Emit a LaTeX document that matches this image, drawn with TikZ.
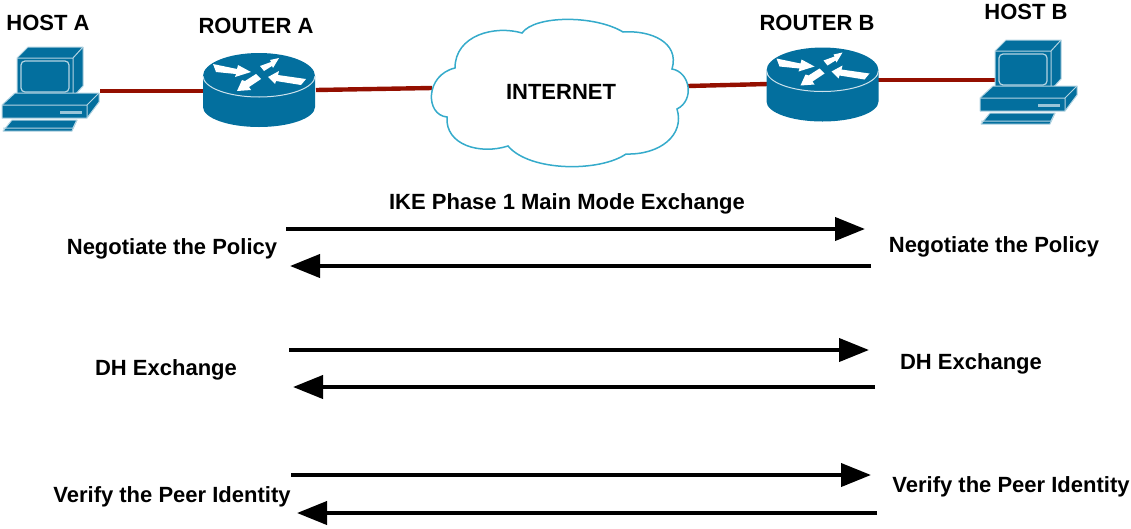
\documentclass[tikz,border=0pt]{standalone}
\usepackage{fontspec}
\setmainfont{Liberation Sans}
\usetikzlibrary{arrows.meta}
\definecolor{ciscoblue}{HTML}{036F9E}
\definecolor{cloudblue}{HTML}{35ABCB}
\definecolor{linkred}{HTML}{940F00}
\tikzset{
	textlabel/.style={font=\bfseries\fontsize{22}{26}\selectfont, inner sep=0pt},
	anchorbox/.style={inner sep=0pt, minimum size=1pt},
	link/.style={draw=linkred, line width=4.4pt},
	exchange/.style={line width=4pt, -{Triangle[length=30pt, width=23pt]}},
	icon/.style={fill=ciscoblue, draw=white!70!ciscoblue, line width=1pt, line join=round},
	host/.pic={
		% monitor
		\path[icon] (-33,-32) -- (-22,-43) -- (33,-43) -- (33,-4) -- (23,7) -- (-33,7) -- cycle;
		\draw[white!70!ciscoblue, line width=1pt] (-33,-32) -- (23,-32) -- (33,-43) (23,-32) -- (23,7);
		\draw[white!70!ciscoblue, line width=1.2pt, rounded corners=4pt] (-29,-29) rectangle (19,2);
		% base
		\path[icon] (-48,15) -- (-35,3) -- (49,3) -- (49,12) -- (37,28) -- (-48,28) -- cycle;
		\draw[white!70!ciscoblue, line width=1pt] (-48,15) -- (37,15) -- (49,3) (37,15) -- (37,28);
		\fill[white!60!ciscoblue] (10,21) rectangle (32,23.5);
		% keyboard
		\path[icon] (-38,30) -- (27,30) -- (22,41) -- (-47,41) -- cycle;
		\draw[white!70!ciscoblue, line width=1pt] (-47,38) -- (23,38) -- (27,30);
	},
	router/.pic={
		\fill[ciscoblue] (-56,-14) arc[start angle=180, end angle=360, x radius=56, y radius=23]
			-- (56,17) arc[start angle=0, end angle=180, x radius=56, y radius=20] -- cycle;
		\draw[white!80!ciscoblue, line width=1pt] (-56,-14) arc[start angle=180, end angle=0, x radius=56, y radius=21];
		% four arrows on the lid
		\fill[white] (-46,-26) -- (-22,-21) -- (-21,-25) -- (-8,-18) -- (-24,-13) -- (-23,-16) -- (-43,-18) -- cycle;
		\fill[white] (1,-24) -- (12,-28) -- (11,-30) -- (20,-32) -- (14,-22) -- (13,-24) -- (5,-19) -- cycle;
		\fill[white] (47,-11) -- (19,-15) -- (20,-19) -- (9,-13) -- (16,-6) -- (17,-9) -- (42,-5) -- cycle;
		\fill[white] (-3,-16) -- (-14,-9) -- (-17,-10) -- (-22,1) -- (-8,0) -- (-10,-3) -- (2,-11) -- cycle;
	}
}

\begin{document}
\begin{tikzpicture}[x=1pt, y=-1pt]
	\useasboundingbox (0,0) rectangle (1131,528);

	% Top row
	\node[anchorbox] (hostA) at (50,90) {};
	\node[anchorbox] (routerA) at (259,90) {};
	\node[anchorbox] (routerB) at (822.5,84.5) {};
	\node[anchorbox] (hostB) at (1028,83) {};
	\coordinate (hostAport) at (100,91);
	\coordinate (routerAin) at (205,91);
	\coordinate (routerAout) at (316,90);
	\coordinate (cloudin) at (432,88);
	\coordinate (cloudout) at (688,86);
	\coordinate (routerBin) at (768,84);
	\coordinate (routerBout) at (878,80);
	\coordinate (hostBport) at (998,80);

	% Links go under the icons
	\draw[link] (hostAport) -- (routerAin);
	\draw[link] (routerAout) -- (cloudin);
	\draw[link] (cloudout) -- (routerBin);
	\draw[link] (routerBout) -- (hostBport);

	\pic at (hostA) {host};
	\pic at (hostB) {host};
	\pic at (routerA) {router};
	\pic at (routerB) {router};

	% Cloud
	\path[draw=cloudblue, fill=white, line width=1.5pt]
		(522,33) .. controls (535,15) and (595,15) .. (623,32)
		.. controls (650,30) and (680,42) .. (672,69)
		.. controls (690,72) and (695,100) .. (677,109)
		.. controls (685,135) and (660,155) .. (626,154)
		.. controls (600,172) and (530,172) .. (508,146)
		.. controls (480,155) and (445,145) .. (447,117)
		.. controls (425,115) and (425,75) .. (455,68)
		.. controls (455,35) and (495,25) .. (522,33) -- cycle;

	% Labels of the top row
	\node[textlabel] (hostAlabel) at (48,23) {HOST A};
	\node[textlabel] (routerAlabel) at (256,26) {ROUTER A};
	\node[textlabel] (internetlabel) at (561,92) {INTERNET};
	\node[textlabel] (routerBlabel) at (817,23) {ROUTER B};
	\node[textlabel] (hostBlabel) at (1026,12) {HOST B};

	% Exchange labels
	\node[textlabel] (title) at (567,204) {IKE Phase 1 Main Mode Exchange};
	\node[textlabel] (policyA) at (172,249) {Negotiate the Policy};
	\node[textlabel] (policyB) at (994,247) {Negotiate the Policy};
	\node[textlabel] (dhA) at (166,370) {DH Exchange};
	\node[textlabel] (dhB) at (971,364) {DH Exchange};
	\node[textlabel] (peerA) at (172,497) {Verify the Peer Identity};
	\node[textlabel] (peerB) at (1011,487) {Verify the Peer Identity};

	% Arrow ends
	\coordinate (a1) at (286,229);
	\coordinate (b1) at (865,229);
	\coordinate (a2) at (290,266);
	\coordinate (b2) at (871,266);
	\coordinate (a3) at (289,350);
	\coordinate (b3) at (869,350);
	\coordinate (a4) at (293,387);
	\coordinate (b4) at (875,387);
	\coordinate (a5) at (291,475);
	\coordinate (b5) at (871,475);
	\coordinate (a6) at (297,513);
	\coordinate (b6) at (877,513);

	\draw[exchange] (a1) -- (b1);
	\draw[exchange] (b2) -- (a2);
	\draw[exchange] (a3) -- (b3);
	\draw[exchange] (b4) -- (a4);
	\draw[exchange] (a5) -- (b5);
	\draw[exchange] (b6) -- (a6);

\end{tikzpicture}
\end{document}
